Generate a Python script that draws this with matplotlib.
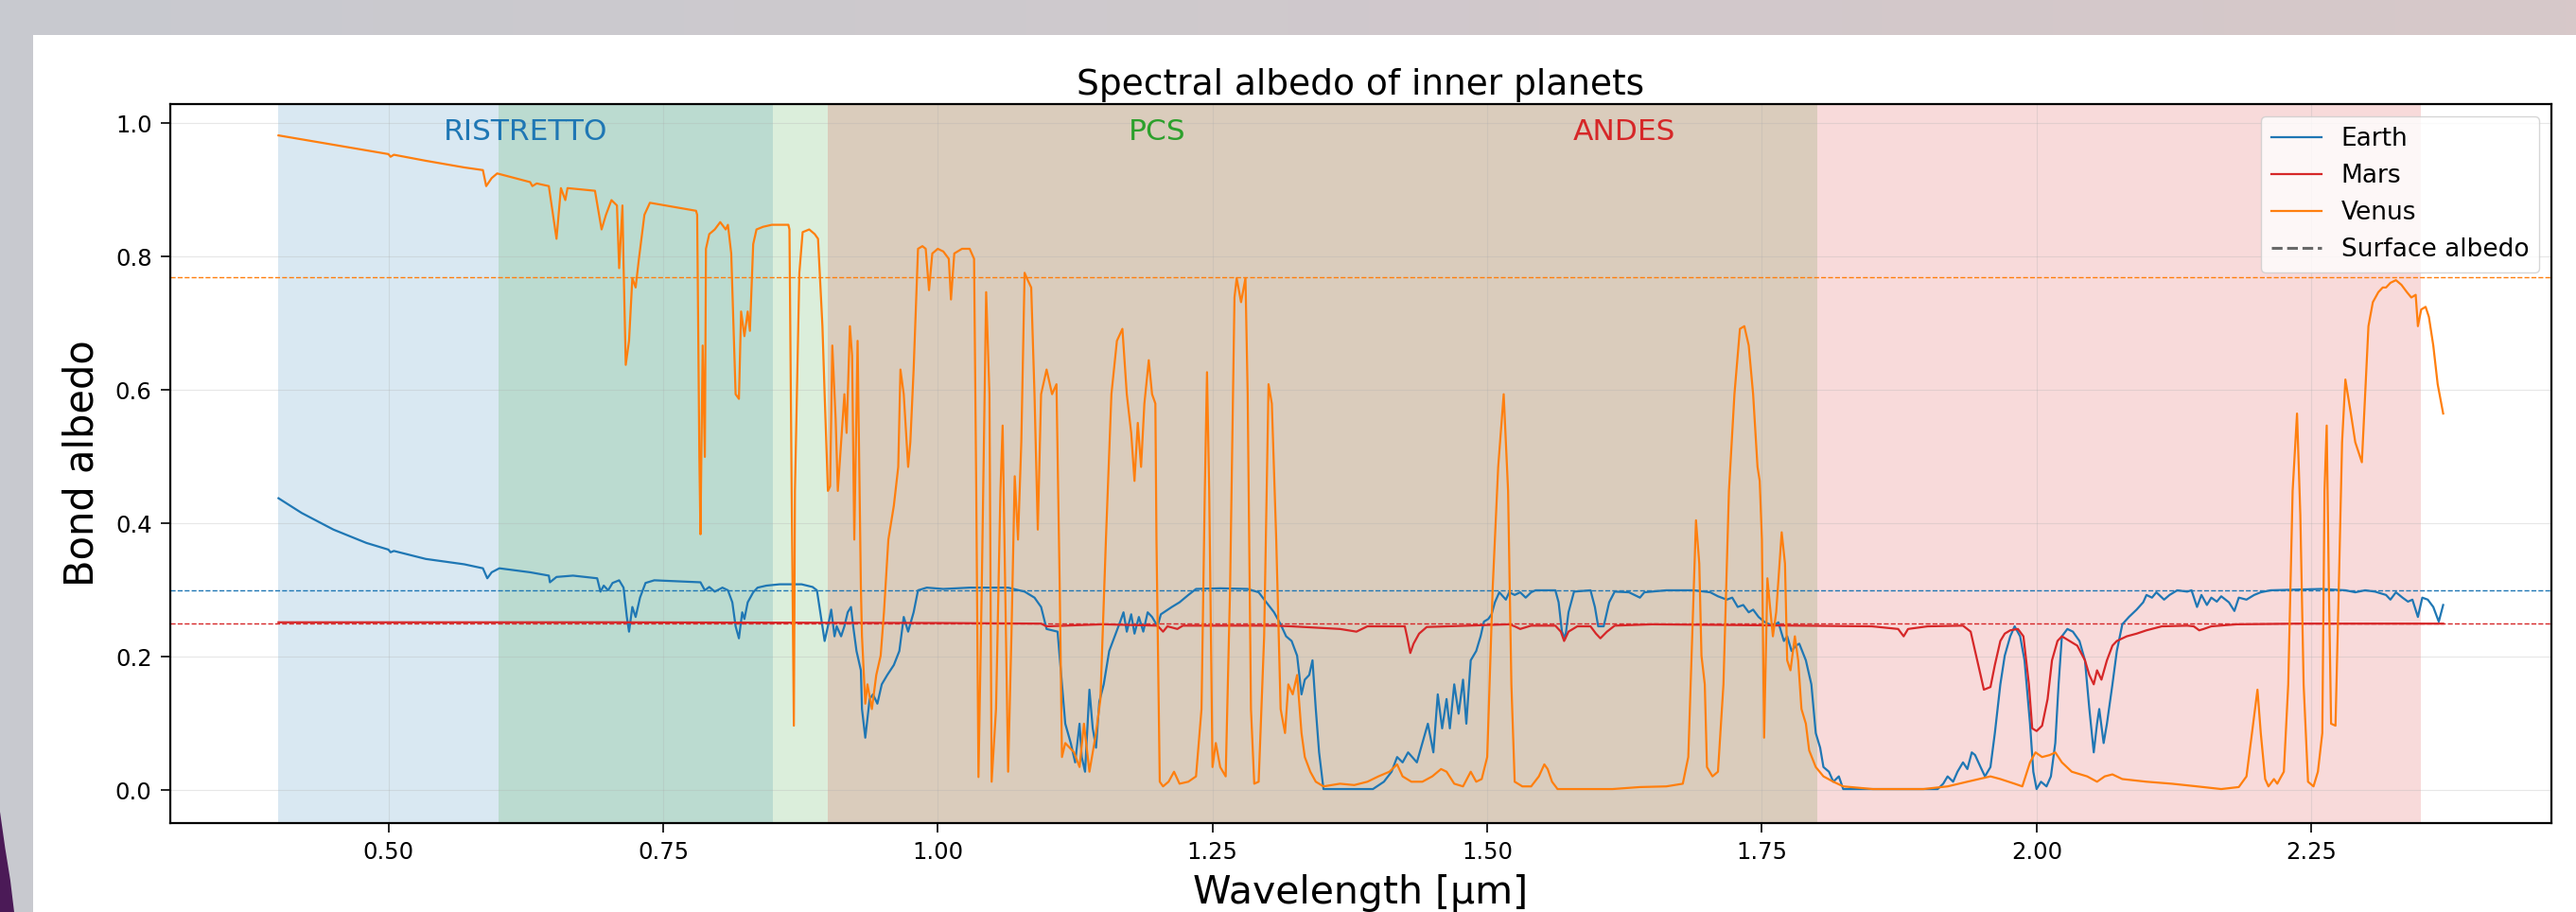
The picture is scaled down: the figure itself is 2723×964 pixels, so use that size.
import numpy as np
import matplotlib
matplotlib.use("Agg")
import matplotlib.pyplot as plt
from matplotlib.patches import Rectangle, Polygon
from matplotlib.lines import Line2D

# ---------------- data (wavelength in um, Bond albedo) ----------------
earth_points = [
    (0.400, 0.438), (0.421, 0.416), (0.450, 0.391), (0.480, 0.371), (0.500, 0.361), (0.502, 0.357),
    (0.505, 0.359), (0.534, 0.347), (0.569, 0.339), (0.586, 0.333), (0.590, 0.318), (0.594, 0.327),
    (0.601, 0.333), (0.629, 0.327), (0.646, 0.322), (0.647, 0.312), (0.653, 0.320), (0.668, 0.322),
    (0.690, 0.318), (0.693, 0.298), (0.696, 0.307), (0.700, 0.300), (0.704, 0.311), (0.710, 0.315),
    (0.714, 0.304), (0.717, 0.260), (0.719, 0.238), (0.722, 0.275), (0.725, 0.260), (0.729, 0.289),
    (0.734, 0.311), (0.742, 0.315), (0.784, 0.312), (0.788, 0.300), (0.792, 0.305), (0.797, 0.298),
    (0.804, 0.304), (0.809, 0.300), (0.813, 0.282), (0.816, 0.246), (0.819, 0.228), (0.822, 0.267),
    (0.824, 0.257), (0.827, 0.282), (0.832, 0.297), (0.836, 0.304), (0.844, 0.307), (0.856, 0.309),
    (0.876, 0.309), (0.886, 0.305), (0.890, 0.300), (0.893, 0.267), (0.897, 0.224), (0.900, 0.246),
    (0.903, 0.271), (0.906, 0.231), (0.908, 0.246), (0.912, 0.231), (0.915, 0.246), (0.918, 0.267),
    (0.921, 0.275), (0.923, 0.246), (0.926, 0.209), (0.930, 0.180), (0.931, 0.122), (0.934, 0.079),
    (0.938, 0.137), (0.941, 0.144), (0.945, 0.130), (0.949, 0.159), (0.954, 0.173), (0.960, 0.188),
    (0.965, 0.209), (0.969, 0.260), (0.973, 0.238), (0.978, 0.267), (0.982, 0.300), (0.990, 0.304),
    (1.005, 0.302), (1.029, 0.304), (1.064, 0.304), (1.079, 0.298), (1.088, 0.289), (1.094, 0.275),
    (1.099, 0.242), (1.109, 0.238), (1.113, 0.159), (1.116, 0.100), (1.121, 0.071), (1.125, 0.042),
    (1.129, 0.100), (1.131, 0.050), (1.134, 0.028), (1.138, 0.151), (1.141, 0.093), (1.144, 0.064),
    (1.147, 0.133), (1.151, 0.159), (1.156, 0.209), (1.161, 0.231), (1.166, 0.253), (1.169, 0.267),
    (1.172, 0.238), (1.176, 0.264), (1.179, 0.235), (1.183, 0.260), (1.187, 0.238), (1.191, 0.267),
    (1.195, 0.260), (1.200, 0.246), (1.203, 0.264), (1.213, 0.275), (1.220, 0.282), (1.228, 0.293),
    (1.235, 0.302), (1.257, 0.303), (1.282, 0.302), (1.292, 0.297), (1.299, 0.282), (1.306, 0.267),
    (1.312, 0.249), (1.317, 0.231), (1.322, 0.224), (1.327, 0.202), (1.331, 0.144), (1.334, 0.166),
    (1.338, 0.173), (1.341, 0.195), (1.344, 0.122), (1.347, 0.057), (1.351, 0.002), (1.371, 0.002),
    (1.396, 0.002), (1.406, 0.013), (1.413, 0.028), (1.418, 0.050), (1.423, 0.042), (1.428, 0.057),
    (1.436, 0.042), (1.441, 0.071), (1.446, 0.100), (1.451, 0.057), (1.455, 0.144), (1.459, 0.093),
    (1.463, 0.137), (1.466, 0.093), (1.470, 0.159), (1.474, 0.115), (1.478, 0.166), (1.481, 0.100),
    (1.485, 0.195), (1.490, 0.209), (1.494, 0.231), (1.497, 0.253), (1.501, 0.257), (1.504, 0.264),
    (1.507, 0.282), (1.511, 0.297), (1.517, 0.286), (1.520, 0.297), (1.525, 0.293), (1.530, 0.297),
    (1.535, 0.289), (1.540, 0.297), (1.544, 0.300), (1.562, 0.300), (1.565, 0.282), (1.568, 0.238),
    (1.571, 0.228), (1.574, 0.267), (1.579, 0.298), (1.594, 0.300), (1.598, 0.275), (1.601, 0.246),
    (1.606, 0.246), (1.611, 0.282), (1.616, 0.298), (1.629, 0.297), (1.639, 0.289), (1.643, 0.297),
    (1.663, 0.300), (1.688, 0.300), (1.703, 0.297), (1.710, 0.291), (1.718, 0.286), (1.723, 0.289),
    (1.728, 0.275), (1.733, 0.278), (1.738, 0.267), (1.742, 0.271), (1.747, 0.260), (1.752, 0.253),
    (1.760, 0.246), (1.765, 0.252), (1.770, 0.224), (1.773, 0.231), (1.777, 0.209), (1.781, 0.217),
    (1.784, 0.220), (1.790, 0.195), (1.795, 0.159), (1.799, 0.086), (1.803, 0.064), (1.806, 0.035),
    (1.811, 0.028), (1.815, 0.013), (1.820, 0.021), (1.824, 0.002), (1.851, 0.002), (1.910, 0.002),
    (1.915, 0.010), (1.919, 0.021), (1.924, 0.013), (1.928, 0.028), (1.933, 0.042), (1.937, 0.032),
    (1.941, 0.057), (1.944, 0.053), (1.949, 0.035), (1.953, 0.021), (1.958, 0.035), (1.962, 0.086),
    (1.967, 0.159), (1.971, 0.202), (1.976, 0.231), (1.980, 0.246), (1.985, 0.231), (1.989, 0.195),
    (1.994, 0.100), (1.997, 0.028), (2.000, 0.002), (2.004, 0.013), (2.009, 0.006), (2.013, 0.021),
    (2.017, 0.071), (2.020, 0.159), (2.023, 0.231), (2.028, 0.242), (2.033, 0.238), (2.039, 0.224),
    (2.044, 0.195), (2.048, 0.122), (2.052, 0.057), (2.055, 0.100), (2.057, 0.122), (2.061, 0.071),
    (2.064, 0.100), (2.069, 0.159), (2.073, 0.209), (2.078, 0.249), (2.084, 0.260), (2.091, 0.271),
    (2.097, 0.282), (2.100, 0.293), (2.105, 0.289), (2.109, 0.297), (2.116, 0.286), (2.121, 0.293),
    (2.128, 0.300), (2.137, 0.298), (2.141, 0.300), (2.146, 0.275), (2.150, 0.293), (2.155, 0.278),
    (2.159, 0.289), (2.164, 0.283), (2.168, 0.291), (2.175, 0.282), (2.180, 0.269), (2.184, 0.289),
    (2.191, 0.286), (2.198, 0.293), (2.204, 0.297), (2.213, 0.300), (2.236, 0.301), (2.259, 0.302),
    (2.281, 0.300), (2.290, 0.297), (2.299, 0.300), (2.308, 0.298), (2.318, 0.293), (2.322, 0.286),
    (2.327, 0.297), (2.333, 0.289), (2.338, 0.283), (2.342, 0.286), (2.347, 0.260), (2.351, 0.289),
    (2.356, 0.286), (2.361, 0.275), (2.366, 0.253), (2.370, 0.278),
]

mars_points = [
    (0.400, 0.252), (0.700, 0.252), (1.000, 0.251), (1.094, 0.250), (1.099, 0.246), (1.150, 0.249),
    (1.200, 0.247), (1.205, 0.238), (1.209, 0.246), (1.218, 0.242), (1.223, 0.247), (1.306, 0.247),
    (1.322, 0.246), (1.366, 0.242), (1.381, 0.238), (1.391, 0.246), (1.425, 0.246), (1.427, 0.231),
    (1.430, 0.206), (1.433, 0.220), (1.438, 0.235), (1.445, 0.245), (1.520, 0.249), (1.525, 0.246),
    (1.530, 0.242), (1.540, 0.247), (1.562, 0.247), (1.567, 0.238), (1.570, 0.224), (1.574, 0.238),
    (1.582, 0.246), (1.594, 0.246), (1.599, 0.235), (1.603, 0.228), (1.609, 0.238), (1.616, 0.247),
    (1.650, 0.249), (1.850, 0.246), (1.874, 0.242), (1.879, 0.231), (1.883, 0.242), (1.901, 0.246),
    (1.933, 0.247), (1.940, 0.238), (1.944, 0.209), (1.949, 0.173), (1.952, 0.151), (1.958, 0.155),
    (1.962, 0.188), (1.967, 0.224), (1.971, 0.235), (1.976, 0.240), (1.983, 0.242), (1.988, 0.231),
    (1.993, 0.159), (1.996, 0.093), (2.000, 0.089), (2.005, 0.097), (2.010, 0.137), (2.014, 0.195),
    (2.019, 0.224), (2.023, 0.231), (2.030, 0.224), (2.037, 0.217), (2.044, 0.195), (2.048, 0.173),
    (2.052, 0.159), (2.055, 0.180), (2.059, 0.166), (2.064, 0.195), (2.069, 0.217), (2.073, 0.224),
    (2.082, 0.231), (2.091, 0.235), (2.100, 0.240), (2.114, 0.246), (2.137, 0.247), (2.143, 0.246),
    (2.148, 0.240), (2.152, 0.242), (2.159, 0.246), (2.182, 0.249), (2.236, 0.250), (2.370, 0.250),
]

venus_points = [
    (0.400, 0.982), (0.450, 0.968), (0.500, 0.954), (0.502, 0.950), (0.505, 0.953), (0.534, 0.944),
    (0.569, 0.934), (0.586, 0.930), (0.589, 0.906), (0.594, 0.918), (0.599, 0.925), (0.629, 0.912),
    (0.631, 0.906), (0.635, 0.910), (0.646, 0.906), (0.653, 0.827), (0.657, 0.903), (0.661, 0.885),
    (0.663, 0.903), (0.688, 0.899), (0.694, 0.841), (0.698, 0.863), (0.703, 0.885), (0.708, 0.877),
    (0.710, 0.783), (0.713, 0.877), (0.714, 0.790), (0.716, 0.638), (0.719, 0.674), (0.722, 0.768),
    (0.725, 0.754), (0.728, 0.797), (0.733, 0.863), (0.738, 0.881), (0.780, 0.869), (0.781, 0.863),
    (0.783, 0.500), (0.784, 0.384), (0.786, 0.667), (0.788, 0.500), (0.789, 0.812), (0.792, 0.834),
    (0.797, 0.841), (0.802, 0.852), (0.807, 0.841), (0.809, 0.848), (0.812, 0.805), (0.816, 0.594),
    (0.819, 0.587), (0.821, 0.718), (0.824, 0.681), (0.827, 0.718), (0.829, 0.689), (0.832, 0.819),
    (0.835, 0.841), (0.841, 0.845), (0.849, 0.848), (0.856, 0.848), (0.864, 0.848), (0.865, 0.841),
    (0.867, 0.449), (0.869, 0.097), (0.870, 0.449), (0.874, 0.776), (0.877, 0.837), (0.883, 0.841),
    (0.888, 0.834), (0.891, 0.827), (0.895, 0.696), (0.897, 0.594), (0.900, 0.449), (0.902, 0.456),
    (0.904, 0.667), (0.907, 0.558), (0.909, 0.449), (0.912, 0.522), (0.915, 0.594), (0.917, 0.536),
    (0.920, 0.696), (0.922, 0.652), (0.924, 0.376), (0.927, 0.674), (0.930, 0.304), (0.931, 0.231),
    (0.934, 0.130), (0.936, 0.159), (0.940, 0.122), (0.944, 0.173), (0.948, 0.202), (0.951, 0.267),
    (0.955, 0.376), (0.960, 0.427), (0.964, 0.485), (0.966, 0.631), (0.969, 0.594), (0.973, 0.485),
    (0.975, 0.522), (0.978, 0.631), (0.982, 0.812), (0.986, 0.816), (0.989, 0.812), (0.992, 0.750),
    (0.995, 0.805), (1.000, 0.812), (1.005, 0.808), (1.010, 0.797), (1.012, 0.736), (1.015, 0.805),
    (1.022, 0.812), (1.029, 0.812), (1.033, 0.797), (1.035, 0.449), (1.037, 0.020), (1.040, 0.304),
    (1.044, 0.747), (1.047, 0.594), (1.049, 0.013), (1.053, 0.122), (1.057, 0.449), (1.059, 0.547),
    (1.061, 0.340), (1.064, 0.028), (1.067, 0.231), (1.070, 0.471), (1.073, 0.376), (1.076, 0.522),
    (1.079, 0.776), (1.081, 0.768), (1.085, 0.754), (1.088, 0.594), (1.091, 0.391), (1.094, 0.594),
    (1.099, 0.631), (1.104, 0.594), (1.108, 0.609), (1.111, 0.300), (1.113, 0.050), (1.116, 0.071),
    (1.124, 0.057), (1.129, 0.035), (1.133, 0.100), (1.138, 0.028), (1.144, 0.086), (1.148, 0.137),
    (1.153, 0.376), (1.158, 0.594), (1.163, 0.674), (1.168, 0.692), (1.172, 0.594), (1.176, 0.536),
    (1.179, 0.464), (1.182, 0.551), (1.185, 0.485), (1.188, 0.580), (1.192, 0.645), (1.195, 0.594),
    (1.198, 0.580), (1.199, 0.376), (1.202, 0.013), (1.205, 0.006), (1.210, 0.013), (1.215, 0.028),
    (1.220, 0.010), (1.228, 0.013), (1.235, 0.021), (1.240, 0.122), (1.243, 0.449), (1.245, 0.627),
    (1.247, 0.449), (1.250, 0.035), (1.253, 0.071), (1.257, 0.035), (1.262, 0.021), (1.266, 0.304),
    (1.270, 0.739), (1.272, 0.768), (1.276, 0.732), (1.280, 0.768), (1.282, 0.594), (1.285, 0.122),
    (1.288, 0.010), (1.292, 0.013), (1.297, 0.231), (1.301, 0.609), (1.304, 0.580), (1.308, 0.376),
    (1.312, 0.122), (1.316, 0.086), (1.319, 0.159), (1.323, 0.144), (1.327, 0.173), (1.331, 0.086),
    (1.334, 0.050), (1.339, 0.028), (1.344, 0.013), (1.351, 0.006), (1.366, 0.010), (1.379, 0.008),
    (1.391, 0.013), (1.401, 0.021), (1.411, 0.028), (1.418, 0.039), (1.423, 0.021), (1.431, 0.013),
    (1.441, 0.013), (1.450, 0.021), (1.458, 0.032), (1.463, 0.028), (1.470, 0.010), (1.478, 0.006),
    (1.485, 0.028), (1.490, 0.013), (1.495, 0.017), (1.500, 0.050), (1.505, 0.304), (1.510, 0.485),
    (1.515, 0.594), (1.519, 0.449), (1.522, 0.159), (1.525, 0.013), (1.532, 0.006), (1.540, 0.006),
    (1.547, 0.021), (1.552, 0.039), (1.555, 0.032), (1.559, 0.013), (1.564, 0.002), (1.589, 0.002),
    (1.614, 0.002), (1.639, 0.005), (1.663, 0.006), (1.678, 0.010), (1.683, 0.050), (1.688, 0.304),
    (1.690, 0.405), (1.693, 0.340), (1.695, 0.202), (1.698, 0.159), (1.700, 0.035), (1.705, 0.021),
    (1.710, 0.028), (1.715, 0.159), (1.720, 0.449), (1.725, 0.594), (1.730, 0.692), (1.734, 0.696),
    (1.738, 0.667), (1.742, 0.594), (1.746, 0.485), (1.748, 0.464), (1.750, 0.376), (1.752, 0.079),
    (1.755, 0.318), (1.757, 0.282), (1.760, 0.231), (1.763, 0.267), (1.766, 0.340), (1.768, 0.387),
    (1.771, 0.340), (1.773, 0.195), (1.776, 0.180), (1.780, 0.231), (1.783, 0.195), (1.786, 0.122),
    (1.790, 0.100), (1.793, 0.060), (1.799, 0.035), (1.806, 0.021), (1.815, 0.013), (1.824, 0.006),
    (1.851, 0.002), (1.897, 0.002), (1.919, 0.006), (1.937, 0.013), (1.958, 0.021), (1.967, 0.017),
    (1.980, 0.010), (1.987, 0.006), (1.994, 0.042), (1.999, 0.057), (2.005, 0.050), (2.012, 0.053),
    (2.017, 0.057), (2.023, 0.042), (2.032, 0.028), (2.046, 0.021), (2.055, 0.013), (2.062, 0.021),
    (2.069, 0.024), (2.078, 0.017), (2.100, 0.013), (2.123, 0.010), (2.146, 0.006), (2.168, 0.002),
    (2.184, 0.005), (2.191, 0.021), (2.196, 0.086), (2.201, 0.151), (2.204, 0.086), (2.208, 0.017),
    (2.211, 0.006), (2.216, 0.017), (2.219, 0.010), (2.225, 0.028), (2.229, 0.159), (2.233, 0.449),
    (2.237, 0.565), (2.240, 0.413), (2.243, 0.159), (2.247, 0.013), (2.252, 0.006), (2.256, 0.028),
    (2.260, 0.086), (2.262, 0.449), (2.264, 0.547), (2.266, 0.304), (2.268, 0.100), (2.272, 0.097),
    (2.275, 0.304), (2.278, 0.522), (2.281, 0.616), (2.286, 0.565), (2.290, 0.522), (2.296, 0.492),
    (2.299, 0.594), (2.302, 0.696), (2.306, 0.732), (2.311, 0.747), (2.315, 0.754), (2.318, 0.754),
    (2.322, 0.761), (2.327, 0.765), (2.332, 0.758), (2.337, 0.747), (2.341, 0.739), (2.345, 0.743),
    (2.347, 0.696), (2.350, 0.721), (2.354, 0.725), (2.357, 0.710), (2.361, 0.667), (2.365, 0.609),
    (2.370, 0.565),
]

planets = ["Earth", "Mars", "Venus"]
planet_colors = ["#1f77b4", "#d62728", "#ff7f0e"]
surface_albedo = [0.30, 0.25, 0.77]

instruments = ["RISTRETTO", "PCS", "ANDES"]
inst_start = [0.40, 0.60, 0.90]
inst_end = [0.85, 1.80, 2.35]
inst_colors = ["#1f77b4", "#2ca02c", "#d62728"]

# ---------------- figure ----------------
W, H = 2723, 964
fig = plt.figure(figsize=(W / 100, H / 100), dpi=100)

# slide-like background
bg = fig.add_axes([0, 0, 1, 1], zorder=-10)
t = np.linspace(0, 1, 256)
c_left = np.array([200, 202, 208]) / 255
c_right = np.array([215, 200, 201]) / 255
grad = c_left[None, :] * (1 - t[:, None]) + c_right[None, :] * t[:, None]
bg.imshow(grad[None, :, :], aspect="auto", extent=[0, 1, 0, 1])
bg.add_patch(Rectangle((35 / W, 0), 1, (H - 37) / H, color="white", lw=0))
bg.add_patch(Polygon([(0, 0), (0, 106 / H), (0.002, 0.07), (0.004, 0.035), (0.0055, 0)],
                     closed=True, color="#4b1a57", lw=0))
bg.set_xlim(0, 1)
bg.set_ylim(0, 1)
bg.axis("off")

ax = fig.add_axes([180 / W, 1 - 870 / H, (2697 - 180) / W, (870 - 110) / H])

for name, s, e, c in zip(instruments, inst_start, inst_end, inst_colors):
    ax.axvspan(s, e, color=c, alpha=0.17, lw=0, zorder=0)
    ax.text((s + e) / 2, 0.975, name, color=c, ha="center", va="baseline", fontsize=22.5, zorder=5)

series = [earth_points, mars_points, venus_points]
for name, pts, c, sa in zip(planets, series, planet_colors, surface_albedo):
    arr = np.array(pts)
    ax.plot(arr[:, 0], arr[:, 1], color=c, lw=1.6, label=name, zorder=3)
    ax.axhline(sa, color=c, ls="--", lw=1.0, zorder=2)

handles, labels = ax.get_legend_handles_labels()
handles.append(Line2D([], [], color="dimgray", ls="--", lw=2.2))
labels.append("Surface albedo")
ax.legend(handles, labels, loc="upper right", fontsize=19, framealpha=0.8)

ax.set_xlim(0.3015, 2.4685)
ax.set_ylim(-0.049, 1.029)
ax.set_xticks([0.50, 0.75, 1.00, 1.25, 1.50, 1.75, 2.00, 2.25])
ax.set_yticks([0.0, 0.2, 0.4, 0.6, 0.8, 1.0])
ax.tick_params(labelsize=17.5, length=7, width=1.2, pad=7)
ax.grid(True, alpha=0.3)
for sp in ax.spines.values():
    sp.set_linewidth(1.6)

ax.set_title("Spectral albedo of inner planets", fontsize=27, pad=7)
ax.set_xlabel("Wavelength [µm]", fontsize=29.5)
ax.set_ylabel("Bond albedo", fontsize=30)
ax.yaxis.set_label_coords(-0.029, 0.5)
ax.xaxis.set_label_coords(0.5, -0.071)

fig.savefig("out.png", dpi=100)
